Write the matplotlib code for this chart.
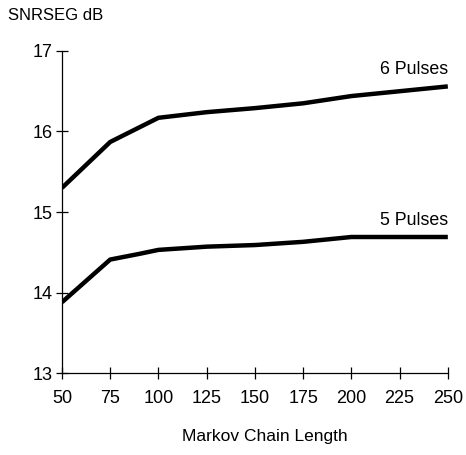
import numpy as np
import matplotlib
matplotlib.use("Agg")
import matplotlib.pyplot as plt

plt.rcParams['font.family'] = ['Liberation Sans', 'DejaVu Sans']

# Markov chain length vs SNRSEG
chain_len = [50, 75, 90, 100, 125, 150, 175, 200, 250]
snr_6 = [15.30, 15.87, 16.05, 16.17, 16.24, 16.29, 16.35, 16.44, 16.56]
snr_5 = [13.88, 14.41, 14.48, 14.53, 14.57, 14.59, 14.63, 14.69, 14.69]
xticks = [50, 75, 100, 125, 150, 175, 200, 225, 250]
yticks = [13, 14, 15, 16, 17]

fig = plt.figure(figsize=(4.66, 4.55), dpi=100)
ax = fig.add_axes([0.133, 0.18, 0.828, 0.708])

ax.plot(chain_len, snr_6, color='black', lw=3.2, solid_capstyle='butt')
ax.plot(chain_len, snr_5, color='black', lw=3.2, solid_capstyle='butt')

ax.set_xlim(50, 250)
ax.set_ylim(13, 17)
ax.set_xticks(xticks)
ax.set_yticks(yticks)
ax.tick_params(direction='inout', length=8, width=0.9, labelsize=13, colors='black', pad=3)
ax.tick_params(axis='x', pad=8)
for s in ['top', 'right']:
    ax.spines[s].set_visible(False)
for s in ['left', 'bottom']:
    ax.spines[s].set_linewidth(0.9)
ax.patch.set_visible(False)

ax.text(250, snr_6[-1] + 0.1, '6 Pulses', ha='right', va='bottom', fontsize=12.8)
ax.text(250, snr_5[-1] + 0.1, '5 Pulses', ha='right', va='bottom', fontsize=12.8)

fig.text(0.018, 0.965, 'SNRSEG dB', ha='left', va='center', fontsize=12)
fig.text(0.568, 0.04, 'Markov Chain Length', ha='center', va='center', fontsize=12.5)

fig.savefig('out.png', dpi=100)
